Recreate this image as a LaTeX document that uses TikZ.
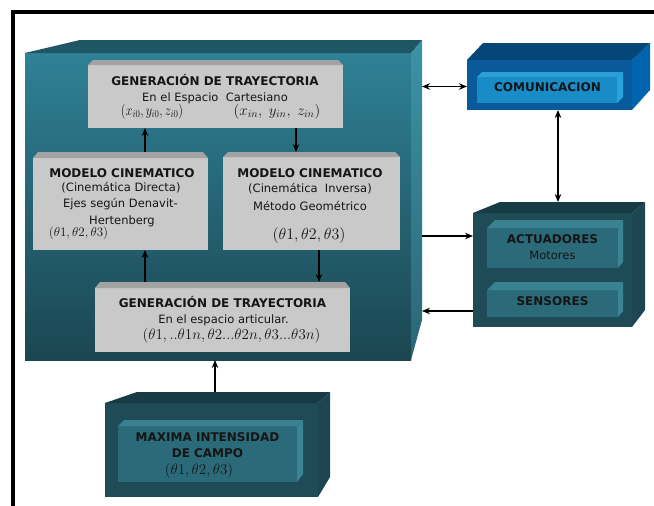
\documentclass[tikz,border=0pt]{standalone}
\usepackage{fix-cm}
\usepackage[no-math]{fontspec}
\setmainfont{DejaVu Sans}
\usetikzlibrary{arrows.meta}

% colours
\definecolor{bigA}{HTML}{2F8196}
\definecolor{bigB}{HTML}{1B4651}
\definecolor{bigT}{HTML}{1F5666}
\definecolor{bigSA}{HTML}{3C93A6}
\definecolor{bigSB}{HTML}{2A6675}
\definecolor{gryF}{HTML}{C9C9C9}
\definecolor{gryT}{HTML}{A3A3A3}
\definecolor{comF}{HTML}{0A5A9B}
\definecolor{comT}{HTML}{054678}
\definecolor{comS}{HTML}{0064AF}
\definecolor{cinF}{HTML}{198CC8}
\definecolor{cinT}{HTML}{2AA0D7}
\definecolor{cinS}{HTML}{27A2DC}
\definecolor{actF}{HTML}{1F4B57}
\definecolor{actT}{HTML}{173B45}
\definecolor{actS}{HTML}{1D4652}
\definecolor{ainF}{HTML}{2A6A79}
\definecolor{ainT}{HTML}{3A8292}
\definecolor{ainS}{HTML}{3A8494}
\definecolor{ink}{HTML}{151515}

\tikzset{
  bigfront/.style={top color=bigA, bottom color=bigB},
  bigtop/.style={fill=bigT},
  bigside/.style={top color=bigSA, bottom color=bigSB},
  gryfront/.style={fill=gryF},
  grytop/.style={fill=gryT},
  gryside/.style={fill=none},
  comfront/.style={fill=comF},
  comtop/.style={fill=comT},
  comside/.style={fill=comS},
  cinfront/.style={fill=cinF},
  cintop/.style={fill=cinT},
  cinside/.style={fill=cinS},
  actfront/.style={fill=actF},
  acttop/.style={fill=actT},
  actside/.style={fill=actS},
  ainfront/.style={fill=ainF},
  aintop/.style={fill=ainT},
  ainside/.style={fill=ainS},
  hold/.style={draw=none, inner sep=0pt, outer sep=0pt, anchor=north west},
  lbl/.style={anchor=base, inner sep=0pt, text=ink},
  arr/.style={-{Stealth[length=8pt,width=6.5pt]}, line width=1.4pt, black},
  darr/.style={{Stealth[length=8pt,width=6.5pt]}-{Stealth[length=8pt,width=6.5pt]}, line width=1.4pt, black},
}

% block with front face (x1,y1)-(x2,y2), top face of depth #6 whose back-left
% corner is moved right by #5, side face of width #7 cut by #8 at the bottom
\newcommand\cube[9]{%
  \path[#9front] (#1,#2) rectangle (#3,#4);
  \path[#9side] (#3,#2) -- ({#3+#7},{#2-#6}) -- ({#3+#7},{#4-#8}) -- (#3,#4) -- cycle;
  \path[#9top] (#1,#2) -- ({#1+#5},{#2-#6}) -- ({#3+#7},{#2-#6}) -- (#3,#2) -- cycle;
}

\newcommand\hb{\fontsize{12}{14}\selectfont\bfseries}
\newcommand\hr{\fontsize{11.5}{13}\selectfont}
\newcommand\hm[1]{\fontsize{#1}{#1}\selectfont}

\begin{document}
\begin{tikzpicture}[x=1pt, y=-1pt]
\useasboundingbox (0,0) rectangle (654,506);
\fill[white] (0,0) rectangle (654,506);

% outer frame
\draw[line width=3.5pt, black] (13,506) -- (13,12) -- (654,12);

% blocks
\cube{25}{53}{411}{360}{55}{13}{11}{40}{big}
\cube{88}{65}{343}{128}{5}{5}{-5}{0}{gry}
\cube{33}{158}{208}{250}{5}{6}{-5}{0}{gry}
\cube{223}{157}{400}{250}{5}{5}{-5}{0}{gry}
\cube{95}{288}{350}{352}{5}{6}{-5}{0}{gry}
\cube{467}{60}{632}{110}{16}{17}{18}{20}{com}
\cube{477}{77}{617}{103}{5}{5}{6}{6}{cin}
\cube{473}{213}{632}{327}{27}{11}{13}{17}{act}
\cube{487}{228}{618}{268}{8}{8}{5}{6}{ain}
\cube{487}{290}{618}{317}{8}{8}{5}{6}{ain}
\cube{105}{403}{318}{497}{32}{11}{12}{20}{act}
\cube{118}{426}{297}{482}{6}{6}{6}{8}{ain}

% named extents of the blocks
\node[hold, minimum width=397pt, minimum height=320pt] (big) at (25,40) {};
\node[hold, minimum width=255pt, minimum height=68pt] (gentop) at (88,60) {};
\node[hold, minimum width=175pt, minimum height=98pt] (modl) at (33,152) {};
\node[hold, minimum width=177pt, minimum height=98pt] (modr) at (223,152) {};
\node[hold, minimum width=255pt, minimum height=70pt] (genbot) at (95,282) {};
\node[hold, minimum width=183pt, minimum height=67pt] (com) at (467,43) {};
\node[hold, minimum width=172pt, minimum height=125pt] (act) at (473,202) {};
\node[hold, minimum width=225pt, minimum height=105pt] (maxi) at (105,392) {};

% texts
\node[lbl] (g1a) at (215,85) {\hb GENERACIÓN DE TRAYECTORIA};
\node[lbl] (g1b) at (215,101.5) {\hr En el Espacio\ \ Cartesiano};
\node[lbl] (g1c) at (152,115) {\hm{15}\scalebox{0.83}[1]{$(x_{i0}, y_{i0}, z_{i0})$}};
\node[lbl] (g1d) at (277,115) {\hm{15}$(x_{in},\; y_{in},\; z_{in})$};

\node[lbl] (ml1) at (122,177) {\hb MODELO CINEMATICO};
\node[lbl] (ml2) at (121,191) {\hr (Cinemática Directa)};
\node[lbl] (ml3) at (120.5,207) {\hr Ejes según Denavit-};
\node[lbl] (ml4) at (122,224) {\hr Hertenberg};
\node[lbl] (ml5) at (78.5,236) {\hm{13}$(\theta1,\theta2,\theta3)$};

\node[lbl] (mr1) at (310,177) {\hb MODELO CINEMATICO};
\node[lbl] (mr2) at (310,192) {\hr (Cinemática\ \ Inversa)};
\node[lbl] (mr3) at (310,210) {\hr Método Geométrico};
\node[lbl] (mr4) at (309,239) {\hm{16}$(\theta1,\theta2,\theta3)$};

\node[lbl] (gb1) at (222.5,307) {\hb GENERACIÓN DE TRAYECTORIA};
\node[lbl] (gb2) at (223.5,323) {\hr En el espacio articular.};
\node[lbl] (gb3) at (231.5,339) {\hm{15}$(\theta1,..\theta1n,\theta2...\theta2n,\theta3...\theta3n)$};

\node[lbl] (cm) at (547.5,91.5) {\hb COMUNICACION};
\node[lbl] (ac1) at (552.5,243) {\hb ACTUADORES};
\node[lbl] (ac2) at (552.5,259.5) {\hr Motores};
\node[lbl] (se) at (552.5,305) {\hb SENSORES};

\node[lbl] (mx1) at (207.5,441.5) {\hb MAXIMA INTENSIDAD};
\node[lbl] (mx2) at (207.5,457) {\hb DE CAMPO};
\node[lbl] (mx3) at (199,474) {\hm{15}$(\theta1,\theta2,\theta3)$};

% reference lines for the connectors
\coordinate (xa) at (145,0);
\coordinate (xb) at (296,0);
\coordinate (xc) at (319,0);
\coordinate (xd) at (558,0);
\coordinate (xe) at (215,0);
\coordinate (ya) at (0,86.5);
\coordinate (yb) at (0,236);
\coordinate (yc) at (0,311);

% connectors
\draw[arr] (modl.north -| xa) -- (gentop.south -| xa);
\draw[arr] (gentop.south -| xb) -- (modr.north -| xb);
\draw[arr] (genbot.north -| xa) -- (modl.south -| xa);
\draw[arr] (modr.south -| xc) -- (genbot.north -| xc);
\draw[darr] (big.east |- ya) -- (com.west |- ya);
\draw[darr] (com.south -| xd) -- (act.north -| xd);
\draw[arr] (big.east |- yb) -- (act.west |- yb);
\draw[arr] (act.west |- yc) -- (big.east |- yc);
\draw[arr] (maxi.north -| xe) -- (big.south -| xe);
\end{tikzpicture}
\end{document}
